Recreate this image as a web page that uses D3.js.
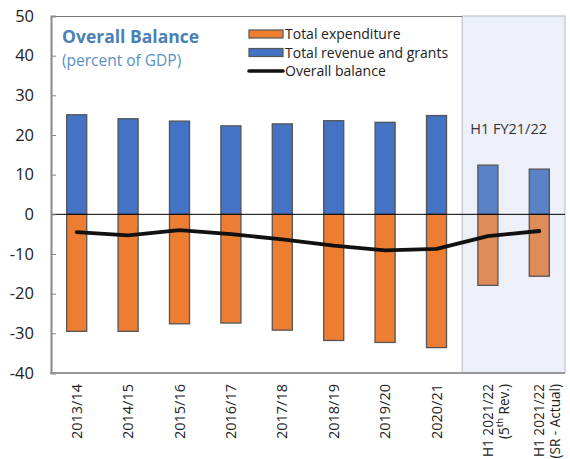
<!DOCTYPE html>
<html>
<head>
<meta charset="utf-8">
<script src="https://cdn.jsdelivr.net/npm/d3@7"></script>
<style>
  body { margin: 0; background: #fff; }
  svg { font-family: "Open Sans", "Noto Sans", sans-serif; }
</style>
</head>
<body>
<svg width="570" height="459"></svg>
<script>
// data
var categories = ["2013/14", "2014/15", "2015/16", "2016/17", "2017/18",
                  "2018/19", "2019/20", "2020/21", "H1a", "H1b"];
var labelLines = [["2013/14"], ["2014/15"], ["2015/16"], ["2016/17"], ["2017/18"],
                  ["2018/19"], ["2019/20"], ["2020/21"],
                  ["H1 2021/22", "(5|th| Rev.)"], ["H1 2021/22", "(SR - Actual)"]];
var revenue     = [25.1, 24.1, 23.5, 22.3, 22.8, 23.6, 23.2, 24.9, 12.4, 11.4];
var expenditure = [-29.5, -29.5, -27.6, -27.4, -29.2, -31.8, -32.3, -33.6, -17.9, -15.6];
var balance     = [-4.5, -5.3, -4.0, -5.0, -6.3, -7.9, -9.1, -8.7, -5.5, -4.2];
var yTicks = [50, 40, 30, 20, 10, 0, -10, -20, -30, -40];
var shadedFrom = 8;

var margin = {top: 16, right: 5, bottom: 86, left: 51},
    width = 570 - margin.left - margin.right,
    height = 459 - margin.top - margin.bottom;

var svg = d3.select("svg")
    .append("g")
    .attr("transform", "translate(" + margin.left + "," + margin.top + ")");

var x = d3.scaleBand().domain(categories).range([0, width]).paddingInner(0.61).paddingOuter(0.305);
var y = d3.scaleLinear().domain([-40, 50]).range([height, 0]);

var step = x.step();
var shadeX = x(categories[shadedFrom]) - (step - x.bandwidth()) / 2;

// shaded projection area
svg.append("rect")
    .attr("x", shadeX)
    .attr("y", 0)
    .attr("width", width - shadeX)
    .attr("height", height)
    .attr("fill", "#edf0f8")
    .attr("stroke", "#bfc3cc")
    .attr("stroke-width", 1.2);

// top border of plot area
svg.append("line")
    .attr("x1", 0).attr("x2", shadeX)
    .attr("y1", 0.5).attr("y2", 0.5)
    .attr("stroke", "#777").attr("stroke-width", 1);

svg.append("text")
    .attr("x", shadeX + 8)
    .attr("y", 118)
    .attr("font-size", 14.5)
    .attr("fill", "#333")
    .text("H1 FY21/22");

// bars
function barColor(type, i) {
    if (type === "rev") return i >= shadedFrom ? "#5a82c6" : "#4472c4";
    return i >= shadedFrom ? "#e08c58" : "#ed7d31";
}

svg.selectAll(".rev")
    .data(revenue)
    .join("rect")
    .attr("class", "rev")
    .attr("x", function(d, i) { return x(categories[i]); })
    .attr("y", function(d) { return y(d); })
    .attr("width", x.bandwidth())
    .attr("height", function(d) { return y(0) - y(d); })
    .attr("fill", function(d, i) { return barColor("rev", i); })
    .attr("stroke", "#555")
    .attr("stroke-width", 1.3);

svg.selectAll(".exp")
    .data(expenditure)
    .join("rect")
    .attr("class", "exp")
    .attr("x", function(d, i) { return x(categories[i]); })
    .attr("y", y(0))
    .attr("width", x.bandwidth())
    .attr("height", function(d) { return y(d) - y(0); })
    .attr("fill", function(d, i) { return barColor("exp", i); })
    .attr("stroke", "#555")
    .attr("stroke-width", 1.3);

// zero line
svg.append("line")
    .attr("x1", 0).attr("x2", width)
    .attr("y1", y(0)).attr("y2", y(0))
    .attr("stroke", "#000").attr("stroke-width", 1);

// balance line
var line = d3.line()
    .x(function(d, i) { return x(categories[i]) + x.bandwidth() / 2; })
    .y(function(d) { return y(d); });

svg.append("path")
    .datum(balance)
    .attr("d", line)
    .attr("fill", "none")
    .attr("stroke", "#111")
    .attr("stroke-width", 3.8)
    .attr("stroke-linecap", "round")
    .attr("stroke-linejoin", "round");

// y axis, ticks point inward
var yAxis = svg.append("g")
    .call(d3.axisLeft(y).tickValues(yTicks).tickSize(-5).tickPadding(17)
        .tickFormat(function(d) { return String(d); }));
yAxis.select(".domain").attr("stroke", "#888").attr("stroke-width", 2);
yAxis.selectAll(".tick line").attr("stroke", "#888").attr("stroke-width", 1);
yAxis.selectAll(".tick text")
    .attr("font-size", 16.5)
    .attr("fill", "#222")
    .attr("font-family", "'Open Sans', sans-serif");

// bottom axis line
svg.append("line")
    .attr("x1", -1).attr("x2", width)
    .attr("y1", height).attr("y2", height)
    .attr("stroke", "#999").attr("stroke-width", 2);

// x labels, rotated
var xl = svg.selectAll(".xl")
    .data(categories)
    .join("g")
    .attr("class", "xl")
    .attr("transform", function(d) {
        return "translate(" + (x(d) + x.bandwidth() / 2) + "," + (height + 11) + ") rotate(-90)";
    });

xl.each(function(d, i) {
    var g = d3.select(this);
    var multi = labelLines[i].length > 1;
    labelLines[i].forEach(function(s, j) {
        var t = g.append("text")
            .attr("x", 0)
            .attr("y", j * 16)
            .attr("dy", "0.35em")
            .attr("text-anchor", "end")
            .attr("font-size", multi ? 13.6 : 14.5)
            .attr("fill", "#222");
        var parts = s.split("|");
        if (parts.length === 1) {
            t.text(s);
        } else {
            t.append("tspan").text(parts[0]);
            t.append("tspan").attr("font-size", 9.5).attr("dy", -6).text(parts[1]);
            t.append("tspan").attr("dy", 6).text(parts[2]);
        }
    });
});

// title
svg.append("text")
    .attr("x", 11).attr("y", 27)
    .attr("font-size", 17.5)
    .attr("font-weight", "bold")
    .attr("fill", "#4a80b6")
    .text("Overall Balance");
svg.append("text")
    .attr("x", 11).attr("y", 50)
    .attr("font-size", 15.5)
    .attr("fill", "#5b90c6")
    .text("(percent of GDP)");

// legend
var legendItems = [
    {label: "Total expenditure", type: "rect", color: "#ed7d31"},
    {label: "Total revenue and grants", type: "rect", color: "#4472c4"},
    {label: "Overall balance", type: "line", color: "#111"}
];
var legend = svg.append("g").attr("transform", "translate(198,4)");
legendItems.forEach(function(item, i) {
    var gy = i * 18.5;
    if (item.type === "rect") {
        legend.append("rect")
            .attr("x", 0).attr("y", gy + 10)
            .attr("width", 34).attr("height", 8)
            .attr("fill", item.color)
            .attr("stroke", "#555").attr("stroke-width", 1.2);
    } else {
        legend.append("line")
            .attr("x1", 0).attr("x2", 34)
            .attr("y1", gy + 14).attr("y2", gy + 14)
            .attr("stroke", item.color).attr("stroke-width", 3.6)
            .attr("stroke-linecap", "round");
    }
    legend.append("text")
        .attr("x", 36).attr("y", gy + 19)
        .attr("font-size", 14)
        .attr("fill", "#222")
        .text(item.label);
});
</script>
</body>
</html>
